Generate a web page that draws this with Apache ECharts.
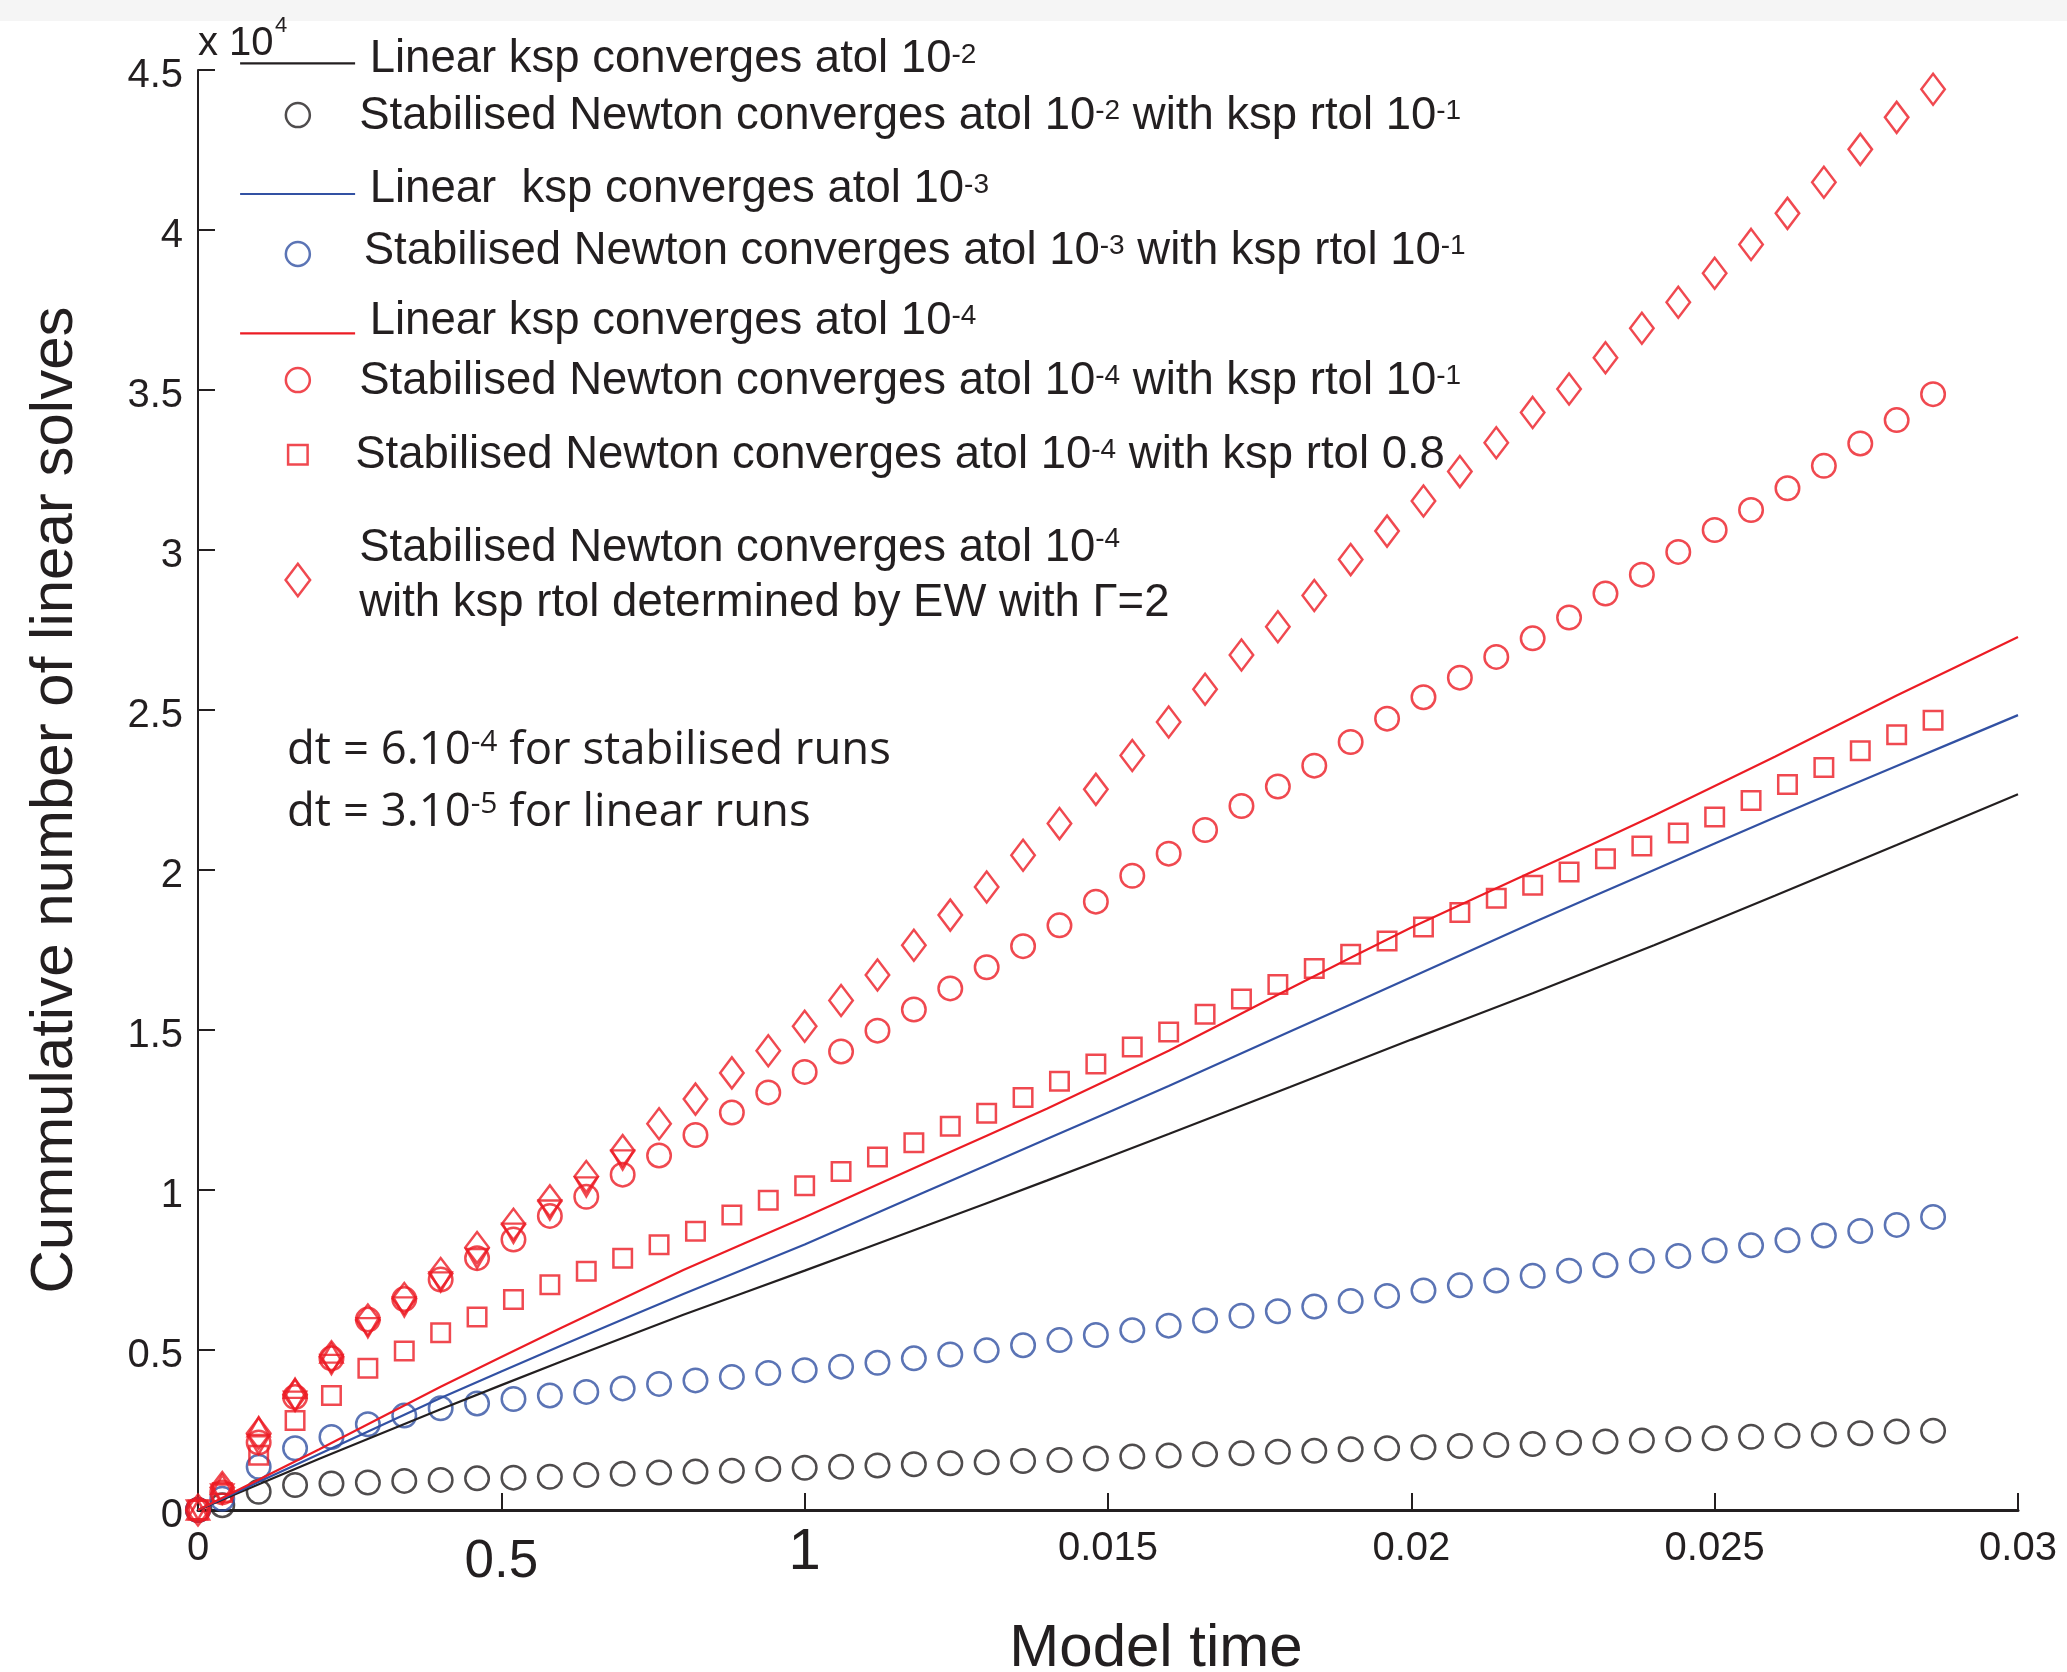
<!DOCTYPE html>
<html>
<head>
<meta charset="utf-8">
<script src="https://cdn.jsdelivr.net/npm/echarts@6/dist/echarts.min.js"></script>
<style>
  html, body { margin: 0; padding: 0; background: #ffffff; }
  #chart { width: 2067px; height: 1672px; }
</style>
</head>
<body>
<div id="chart"></div>
<script>
// Model time of the stabilised runs (dt = 6e-4), in model time units
const tStab = [
  0, 0.0004, 0.0010, 0.0016, 0.0022, 0.0028, 0.0034, 0.0040, 0.0046, 0.0052,
  0.0058, 0.0064, 0.0070, 0.0076, 0.0082, 0.0088, 0.0094, 0.0100, 0.0106, 0.0112,
  0.0118, 0.0124, 0.0130, 0.0136, 0.0142, 0.0148, 0.0154, 0.0160, 0.0166, 0.0172,
  0.0178, 0.0184, 0.0190, 0.0196, 0.0202, 0.0208, 0.0214, 0.0220, 0.0226, 0.0232,
  0.0238, 0.0244, 0.0250, 0.0256, 0.0262, 0.0268, 0.0274, 0.0280, 0.0286
];

// Cumulative linear solves (x 10^4), stabilised Newton runs
const stabAtol2 = [
  0, 0.015, 0.057, 0.078, 0.083, 0.086, 0.091, 0.094, 0.099, 0.101,
  0.104, 0.109, 0.113, 0.117, 0.120, 0.123, 0.128, 0.132, 0.135, 0.139,
  0.143, 0.146, 0.149, 0.153, 0.156, 0.161, 0.167, 0.170, 0.174, 0.177,
  0.182, 0.185, 0.190, 0.193, 0.196, 0.200, 0.203, 0.206, 0.210, 0.214,
  0.217, 0.221, 0.224, 0.229, 0.232, 0.236, 0.240, 0.245, 0.248
];
const stabAtol3 = [
  0, 0.035, 0.135, 0.193, 0.228, 0.268, 0.295, 0.318, 0.333, 0.347,
  0.358, 0.369, 0.380, 0.394, 0.405, 0.416, 0.428, 0.437, 0.448, 0.460,
  0.474, 0.486, 0.499, 0.515, 0.531, 0.547, 0.562, 0.576, 0.592, 0.607,
  0.621, 0.636, 0.653, 0.669, 0.686, 0.702, 0.717, 0.732, 0.748, 0.765,
  0.779, 0.794, 0.811, 0.827, 0.843, 0.858, 0.872, 0.891, 0.916
];
const stabAtol4 = [
  0, 0.055, 0.211, 0.353, 0.474, 0.595, 0.659, 0.720, 0.787, 0.845,
  0.919, 0.979, 1.048, 1.108, 1.172, 1.242, 1.305, 1.369, 1.433, 1.498,
  1.564, 1.630, 1.696, 1.762, 1.827, 1.901, 1.982, 2.051, 2.125, 2.200,
  2.261, 2.326, 2.400, 2.473, 2.540, 2.601, 2.666, 2.724, 2.789, 2.864,
  2.923, 2.994, 3.0625, 3.125, 3.193, 3.263, 3.333, 3.406, 3.487
];
const stabAtol4Rtol08 = [
  0, 0.055, 0.171, 0.280, 0.358, 0.443, 0.497, 0.554, 0.603, 0.658,
  0.704, 0.746, 0.787, 0.829, 0.871, 0.922, 0.968, 1.013, 1.058, 1.103,
  1.148, 1.199, 1.240, 1.289, 1.340, 1.394, 1.447, 1.494, 1.549, 1.597,
  1.642, 1.692, 1.737, 1.778, 1.822, 1.867, 1.912, 1.952, 1.994, 2.035,
  2.075, 2.116, 2.166, 2.217, 2.267, 2.320, 2.373, 2.423, 2.468
];
const stabAtol4EW = [
  0, 0.070, 0.240, 0.360, 0.479, 0.594, 0.661, 0.739, 0.820, 0.893,
  0.966, 1.042, 1.123, 1.207, 1.284, 1.366, 1.435, 1.512, 1.592, 1.672,
  1.765, 1.859, 1.947, 2.046, 2.145, 2.252, 2.358, 2.4625, 2.565, 2.672,
  2.760, 2.858, 2.970, 3.059, 3.153, 3.245, 3.335, 3.430, 3.503, 3.601,
  3.693, 3.774, 3.865, 3.955, 4.052, 4.149, 4.252, 4.352, 4.440
];
// Two short additional stabilised runs (first steps only, no legend entry)
const extraRunDown = [0, 0.050, 0.205, 0.340, 0.455, 0.570, 0.635, 0.713, 0.786, 0.865, 0.9375, 1.010, 1.094];
const extraRunUp = [0, 0.080, 0.260, 0.380, 0.490];

// Linear runs (dt = 3e-5), sampled along model time
const tLin = [0, 0.002, 0.004, 0.006, 0.008, 0.010, 0.012, 0.014, 0.016, 0.018, 0.020, 0.022, 0.024, 0.026, 0.028, 0.030];
const linAtol2 = [0, 0.160, 0.315, 0.465, 0.610, 0.748, 0.888, 1.030, 1.175, 1.322, 1.470, 1.615, 1.765, 1.920, 2.078, 2.237];
const linAtol3 = [0, 0.175, 0.350, 0.515, 0.675, 0.830, 0.995, 1.160, 1.325, 1.495, 1.665, 1.835, 2.000, 2.165, 2.325, 2.484];
const linAtol4 = [0, 0.190, 0.385, 0.570, 0.750, 0.915, 1.085, 1.255, 1.435, 1.630, 1.820, 1.995, 2.170, 2.355, 2.545, 2.728];

// Tick labels
const xTickLabels = ['0', '0.5', '1', '0.015', '0.02', '0.025', '0.03'];
const yTickLabels = ['0', '0.5', '1', '1.5', '2', '2.5', '3', '3.5', '4', '4.5'];

// Legend entries: alternating normal / superscript fragments
const legendParts = [
  ['Linear ksp converges atol 10', '-2'],
  ['Stabilised Newton converges atol 10', '-2', ' with ksp rtol 10', '-1'],
  ['Linear  ksp converges atol 10', '-3'],
  ['Stabilised Newton converges atol 10', '-3', ' with ksp rtol 10', '-1'],
  ['Linear ksp converges atol 10', '-4'],
  ['Stabilised Newton converges atol 10', '-4', ' with ksp rtol 10', '-1'],
  ['Stabilised Newton converges atol 10', '-4', ' with ksp rtol 0.8'],
  ['Stabilised Newton converges atol 10', '-4', '\nwith ksp rtol determined by EW with \u0393=2']
];
const seriesNames = legendParts.map(p => p.join('').replace('\n', ' '));

const BLACK = '#231f20';
const BLUE = '#3251a3';
const RED = '#ec1c24';
const HELV = "'Liberation Sans', Arial, Helvetica, sans-serif";
const HUMAN = "'Open Sans', 'Noto Sans', sans-serif";
const MARK_W = 2.5;

const pts = (xs, ys) => ys.map((v, i) => [xs[i], v]);

function richText(parts) {
  let s = '';
  parts.forEach((p, i) => {
    if (i % 2 === 1) { s += '{s|' + p + '}'; return; }
    if (p.startsWith('\n')) { s += '\n'; p = p.slice(1); }
    s += '{a|' + p + '}';
  });
  return s;
}

function lineSeries(name, ys, color) {
  return {
    name, type: 'line', data: pts(tLin, ys), symbol: 'none', showSymbol: false, smooth: 0.15,
    lineStyle: { color, width: 2.2 }, itemStyle: { color }, silent: true
  };
}
function markerSeries(name, xs, ys, color, symbol, size, rotate) {
  return {
    name, type: 'scatter', data: pts(xs, ys), symbol, symbolSize: size,
    symbolRotate: rotate || 0, silent: true,
    itemStyle: { color: 'rgba(0,0,0,0)', borderColor: color, borderWidth: MARK_W }
  };
}

const series = [
  lineSeries(seriesNames[0], linAtol2, BLACK),
  markerSeries(seriesNames[1], tStab, stabAtol2, BLACK, 'circle', 23.5),
  lineSeries(seriesNames[2], linAtol3, BLUE),
  markerSeries(seriesNames[3], tStab, stabAtol3, BLUE, 'circle', 23.5),
  lineSeries(seriesNames[4], linAtol4, RED),
  markerSeries(seriesNames[5], tStab, stabAtol4, RED, 'circle', 23.5),
  markerSeries(seriesNames[6], tStab, stabAtol4Rtol08, RED, 'rect', 18.5),
  markerSeries(seriesNames[7], tStab, stabAtol4EW, RED, 'diamond', [23.5, 31]),
  markerSeries('extra run a', tStab.slice(0, extraRunDown.length), extraRunDown, RED, 'triangle', [22, 19], 180),
  markerSeries('extra run b', tStab.slice(0, extraRunUp.length), extraRunUp, RED, 'triangle', [22, 19])
];

// Legend placement: icon centre, icon size, text start x, first baseline y
const legendLayout = [
  { cx: 296.5, cy: 63.3,  w: 115, h: 14, tx: 368.6, bl: 75.5,  color: BLACK, line: true },
  { cx: 296.6, cy: 118.3, w: 24,  h: 24, tx: 358,   bl: 135.5, color: BLACK },
  { cx: 296.5, cy: 194,   w: 115, h: 14, tx: 368.6, bl: 205.5, color: BLUE, line: true },
  { cx: 296.6, cy: 254,   w: 24,  h: 24, tx: 362.5, bl: 267.2, color: BLUE },
  { cx: 296.5, cy: 333.3, w: 115, h: 14, tx: 368.6, bl: 337.2, color: RED, line: true },
  { cx: 296.6, cy: 383.3, w: 24,  h: 24, tx: 358,   bl: 400.5, color: RED },
  { cx: 296.6, cy: 456,   w: 19.5, h: 19.5, tx: 354, bl: 472.2, color: RED },
  { cx: 296.6, cy: 580,   w: 24.5, h: 32.5, tx: 358, bl: 563.9, color: RED, L: 55, n: 2 }
];
const LEG_FS = 45.5, BASE_OFF = 0.3465 * 45;

const legends = legendLayout.map((g, i) => {
  const L = g.L || 46, n = g.n || 1;
  const contentTop = g.bl - BASE_OFF - L / 2;
  const diff = 2 * (g.cy - contentTop) - n * L;
  const pt = diff < 0 ? -diff : 0, pb = diff > 0 ? diff : 0;
  const boxTop = contentTop - pt;
  const left = g.cx - g.w / 2;
  const padL = g.tx - (left + g.w + 5);
  return {
    data: [seriesNames[i]],
    left, top: Math.min(boxTop, g.cy - g.h / 2),
    padding: 0, itemWidth: g.w, itemHeight: g.h, selectedMode: false,
    symbolKeepAspect: false,
    itemStyle: g.line
      ? { color: 'rgba(0,0,0,0)', borderColor: 'rgba(0,0,0,0)', borderWidth: 0 }
      : { color: 'rgba(0,0,0,0)', borderColor: g.color, borderWidth: MARK_W },
    lineStyle: { color: g.color, width: 2.2 },
    formatter: () => richText(legendParts[i]),
    textStyle: {
      color: BLACK, fontFamily: HELV, fontSize: LEG_FS,
      padding: [pt, 0, pb, padL],
      rich: {
        a: { fontFamily: HELV, fontSize: LEG_FS, lineHeight: L, color: BLACK },
        s: { fontFamily: HELV, fontSize: 28, lineHeight: 28, verticalAlign: 'top', padding: [4, 0, 0, 0], color: BLACK }
      }
    }
  };
});

const annotationRich = {
  a: { fontFamily: HUMAN, fontSize: 45.5, lineHeight: 48, color: BLACK },
  s: { fontFamily: HUMAN, fontSize: 30, lineHeight: 30, verticalAlign: 'top', color: BLACK }
};

const chart = echarts.init(document.getElementById('chart'), null, { renderer: 'canvas' });
chart.setOption({
  animation: false,
  backgroundColor: '#ffffff',
  grid: { left: 198, right: 49, top: 70, bottom: 162, outerBoundsMode: 'none' },
  xAxis: {
    type: 'value', min: 0, max: 0.03, interval: 0.005,
    axisLine: { show: true, lineStyle: { color: BLACK, width: 3 } },
    axisTick: { show: true, inside: true, length: 17, lineStyle: { color: BLACK, width: 2 } },
    splitLine: { show: false },
    axisLabel: {
      margin: 19, color: BLACK, fontFamily: HELV, fontSize: 40,
      formatter: (v, i) => (i === 1 ? '{half|' + xTickLabels[i] + '}' : i === 2 ? '{one|' + xTickLabels[i] + '}' : xTickLabels[i]),
      rich: {
        half: { fontFamily: HELV, fontSize: 53, lineHeight: 67, color: BLACK },
        one: { fontFamily: HELV, fontSize: 58, lineHeight: 48, color: BLACK }
      }
    },
    name: 'Model time', nameLocation: 'middle', nameGap: 109, nameMoveOverlap: false,
    nameTextStyle: { color: BLACK, fontFamily: HELV, fontSize: 60, padding: [0, 0, 0, 96] }
  },
  yAxis: {
    type: 'value', min: 0, max: 4.5, interval: 0.5,
    axisLine: { show: true, lineStyle: { color: BLACK, width: 2 } },
    axisTick: { show: true, inside: true, length: 17, lineStyle: { color: BLACK, width: 2 } },
    splitLine: { show: false },
    axisLabel: {
      margin: 15, color: BLACK, fontFamily: HELV, fontSize: 40,
      formatter: (v, i) => '{v|' + yTickLabels[i] + '}',
      rich: { v: { fontFamily: HELV, fontSize: 40, lineHeight: 40, padding: [11, 0, 0, 0], color: BLACK } }
    },
    name: 'Cummulative number of linear solves', nameLocation: 'middle', nameGap: 113, nameMoveOverlap: false,
    nameTextStyle: { color: BLACK, fontFamily: HELV, fontSize: 60, padding: [0, 20, 0, 0] }
  },
  legend: legends,
  graphic: [
    { type: 'rect', x: 0, y: 0, silent: true, z: -10, shape: { width: 2067, height: 21 }, style: { fill: '#f5f5f5' } },
    { type: 'text', x: 198, y: 44, silent: true,
      style: { text: 'x 10', fontFamily: HELV, fontSize: 40, fill: BLACK, align: 'left', verticalAlign: 'middle' } },
    { type: 'text', x: 275, y: 26, silent: true,
      style: { text: '4', fontFamily: HELV, fontSize: 22, fill: BLACK, align: 'left', verticalAlign: 'middle' } },
    { type: 'text', x: 287, y: 751, silent: true,
      style: { text: '{a|dt = 6.10}{s|-4}{a| for stabilised runs}', align: 'left', verticalAlign: 'middle', fill: BLACK, rich: annotationRich } },
    { type: 'text', x: 287, y: 813, silent: true,
      style: { text: '{a|dt = 3.10}{s|-5}{a| for linear runs}', align: 'left', verticalAlign: 'middle', fill: BLACK, rich: annotationRich } }
  ],
  series
});
</script>
</body>
</html>
